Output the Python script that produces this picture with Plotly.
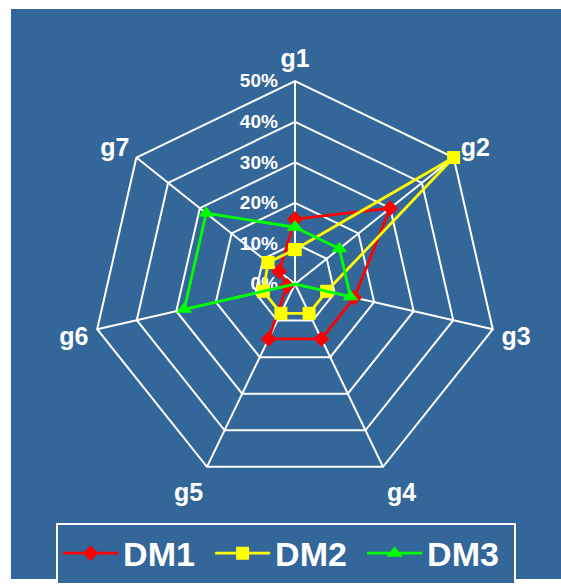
import plotly.graph_objects as go

categories = ["g1", "g2", "g3", "g4", "g5", "g6", "g7"]
dm1 = [16, 30, 15, 15, 15, 2, 5]
dm2 = [8.5, 50, 8, 8, 8, 8, 8.5]
dm3 = [14, 14, 14, 0, 0, 28, 28]
radial_ticks = [0, 10, 20, 30, 40, 50]
radial_labels = [f"{v}%" for v in radial_ticks]

W, H = 561, 585
BLUE = "#336699"
FONT = "Liberation Sans, Arial, sans-serif"

def closed(v):
    return list(v) + [v[0]]

fig = go.Figure()
series = [
    ("DM1", dm1, "#FF0000", "diamond", 12),
    ("DM2", dm2, "#FFFF00", "square", 13),
    ("DM3", dm3, "#00FF00", "triangle-up", 14),
]
for name, vals, col, sym, sz in series:
    fig.add_trace(go.Scatterpolar(
        r=closed(vals), theta=closed(categories), name=name,
        mode="lines+markers",
        line=dict(color=col, width=2.8),
        marker=dict(color=col, symbol=sym, size=sz),
    ))

cx, cy, R = 295, 287, 205
fig.update_layout(
    width=W, height=H,
    margin=dict(l=0, r=0, t=0, b=0),
    paper_bgcolor="white",
    plot_bgcolor=BLUE,
    font=dict(family=FONT, color="white"),
    shapes=[dict(type="rect", xref="paper", yref="paper",
                 x0=11 / W, x1=1, y0=0, y1=1 - 9 / H,
                 fillcolor=BLUE, line=dict(width=0), layer="below")],
    polar=dict(
        domain=dict(x=[(cx - R) / W, (cx + R) / W],
                    y=[(H - cy - R) / H, (H - cy + R) / H]),
        bgcolor=BLUE,
        gridshape="linear",
        angularaxis=dict(
            direction="clockwise", rotation=90,
            categoryorder="array", categoryarray=categories,
            tickfont=dict(size=25, weight="bold", color="white", family=FONT),
            showline=True, linecolor="white", linewidth=2,
            gridcolor="white", gridwidth=2,
            ticks="outside", ticklen=3, tickcolor="rgba(0,0,0,0)",
            layer="below traces",
        ),
        radialaxis=dict(
            range=[0, 50], tickvals=radial_ticks, ticktext=radial_labels,
            angle=90, tickangle=90, side="counterclockwise",
            tickfont=dict(size=19, weight="bold", color="white", family=FONT),
            showline=False, gridcolor="white", gridwidth=2,
            ticks="outside", ticklen=10, tickcolor="rgba(0,0,0,0)",
            layer="below traces",
        ),
    ),
    showlegend=True,
    legend=dict(
        orientation="h", x=0.51, xanchor="center", y=(H - 528) / H, yanchor="top",
        bgcolor=BLUE, bordercolor="white", borderwidth=2,
        font=dict(size=34, weight="bold", color="white", family=FONT),
        itemwidth=55, entrywidth=82,
    ),
)

fig.write_html("out.html")
